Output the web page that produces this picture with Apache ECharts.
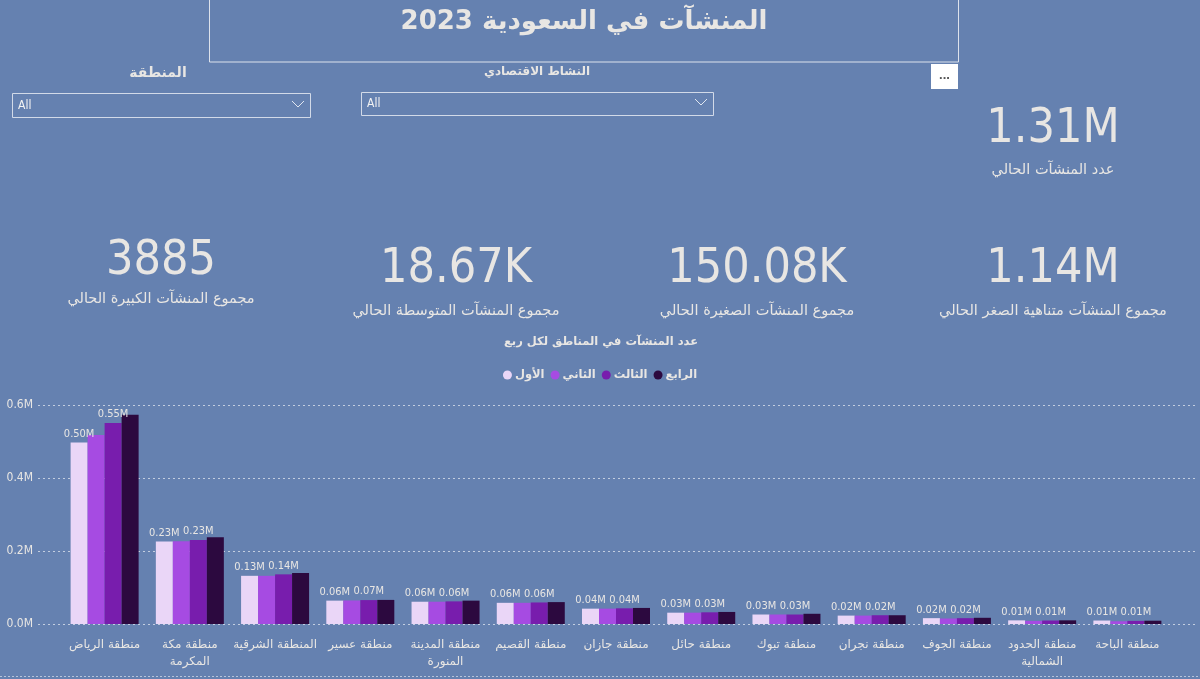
<!DOCTYPE html>
<html>
<head>
<meta charset="utf-8">
<script src="https://cdn.jsdelivr.net/npm/echarts@6/dist/echarts.min.js"></script>
<style>
html,body{margin:0;padding:0;background:#6581B0;}
#c{width:1200px;height:679px;}
</style>
</head>
<body>
<div id="c"></div>
<script>
// ---- data ----
const categories = ['منطقة الرياض','منطقة مكة\nالمكرمة','المنطقة الشرقية','منطقة عسير','منطقة المدينة\nالمنورة','منطقة القصيم','منطقة جازان','منطقة حائل','منطقة تبوك','منطقة نجران','منطقة الجوف','منطقة الحدود\nالشمالية','منطقة الباحة'];
const quarterNames = ['الأول','الثاني','الثالث','الرابع'];
// values in millions
const q1 = [0.497,0.226,0.132,0.064,0.061,0.058,0.042,0.031,0.026,0.023,0.016,0.0100,0.0095];
const q2 = [0.518,0.227,0.132,0.0645,0.061,0.058,0.042,0.031,0.026,0.023,0.015,0.0085,0.0075];
const q3 = [0.551,0.230,0.136,0.0655,0.062,0.059,0.043,0.032,0.026,0.024,0.016,0.0095,0.0085];
const q4 = [0.573,0.2375,0.140,0.066,0.064,0.060,0.044,0.033,0.028,0.024,0.017,0.0100,0.0090];
const yTicks = {min:0, max:0.6, interval:0.2};
const kpiTop = {value:'1.31M', label:'عدد المنشآت الحالي'};
const kpis = [
  {value:'3885', label:'مجموع المنشآت الكبيرة الحالي'},
  {value:'18.67K', label:'مجموع المنشآت المتوسطة الحالي'},
  {value:'150.08K', label:'مجموع المنشآت الصغيرة الحالي'},
  {value:'1.14M', label:'مجموع المنشآت متناهية الصغر الحالي'}
];
const pageTitle = 'المنشآت في السعودية 2023';
const chartTitle = 'عدد المنشآت في المناطق لكل ربع';
const slicers = [{title:'المنطقة', value:'All'},{title:'النشاط الاقتصادي', value:'All'}];

// ---- styling ----
const colors = ['#EAD6F7','#A64BE2','#781DAD','#2C093F'];
const txt = '#E8E6E3';
const arFont = '"DejaVu Sans", "Noto Sans", sans-serif';
const numFont = '"DejaVu Sans Condensed", "DejaVu Sans", sans-serif';
const lblFont = '"DejaVu Sans Condensed", sans-serif';

const chart = echarts.init(document.getElementById('c'));
const series = [q1,q2,q3,q4].map((d,i)=>({
  name: quarterNames[i], type:'bar', xAxisIndex:1, yAxisIndex:1,
  data:d, barWidth:17, barGap:'0%',
  itemStyle:{color:colors[i]},
  label:{show:(i===0||i===2), position:'top', distance:3, color:txt, fontSize:11, fontFamily:lblFont,
    formatter:p=>p.value.toFixed(2)+'M'}
}));

const kpiX = [161,456,757,1053];
const graphics = [
  {type:'rect', shape:{x:209.5,y:-2,width:749,height:64}, style:{fill:'none', stroke:'#DDE2EC', lineWidth:1}},
  {type:'text', x:584, y:22, style:{text:pageTitle, font:'bold 26px '+arFont, fill:txt, align:'center', verticalAlign:'middle'}},
  {type:'rect', shape:{x:931,y:64,width:27,height:25}, style:{fill:'#FFFFFF'}},
  {type:'text', x:944.5, y:75, style:{text:'...', font:'bold 13px sans-serif', fill:'#555', align:'center', verticalAlign:'middle'}},
  // slicers
  {type:'text', x:158, y:73, style:{text:slicers[0].title, font:'bold 14px '+arFont, fill:txt, align:'center', verticalAlign:'middle'}},
  {type:'rect', shape:{x:12.5,y:93.5,width:298,height:24}, style:{fill:'none', stroke:'#D2DAE8', lineWidth:1}},
  {type:'text', x:18, y:106, style:{text:slicers[0].value, font:'12px '+lblFont, fill:'#F2F2F2', verticalAlign:'middle'}},
  {type:'polyline', shape:{points:[[292,101],[298,107],[304,101]]}, style:{stroke:'#E0E6F0', lineWidth:1, fill:'none'}},
  {type:'text', x:537, y:72, style:{text:slicers[1].title, font:'bold 12px '+arFont, fill:txt, align:'center', verticalAlign:'middle'}},
  {type:'rect', shape:{x:361.5,y:92.5,width:352,height:23}, style:{fill:'none', stroke:'#D2DAE8', lineWidth:1}},
  {type:'text', x:367, y:104, style:{text:slicers[1].value, font:'12px '+lblFont, fill:'#F2F2F2', verticalAlign:'middle'}},
  {type:'polyline', shape:{points:[[695,99],[701,105],[707,99]]}, style:{stroke:'#E0E6F0', lineWidth:1, fill:'none'}},
  // KPI top
  {type:'text', x:1053, y:130, style:{text:kpiTop.value, font:'48px '+numFont, fill:txt, align:'center', verticalAlign:'middle'}},
  {type:'text', x:1053, y:170, style:{text:kpiTop.label, font:'14.5px '+arFont, fill:txt, align:'center', verticalAlign:'middle'}},
  // chart title
  {type:'text', x:601, y:342, style:{text:chartTitle, font:'bold 11.5px '+arFont, fill:txt, align:'center', verticalAlign:'middle'}},
  // bottom dotted border
  {type:'line', shape:{x1:0,y1:676.5,x2:1200,y2:676.5}, style:{stroke:'#B9C5DA', lineWidth:1, lineDash:[2,2]}}
];
kpis.forEach((k,i)=>{
  const vy = i===0?262:270, ly = i===0?299:311;
  graphics.push({type:'text', x:kpiX[i], y:vy, style:{text:k.value, font:'48px '+numFont, fill:txt, align:'center', verticalAlign:'middle'}});
  graphics.push({type:'text', x:kpiX[i], y:ly, style:{text:k.label, font:'14.5px '+arFont, fill:txt, align:'center', verticalAlign:'middle'}});
});

chart.setOption({
  backgroundColor:'#6581B0',
  animation:false,
  graphic: graphics,
  legend:{
    data:quarterNames, top:364, left:'center', itemWidth:9, itemHeight:9, icon:'circle', itemGap:6,
    textStyle:{color:txt, fontSize:11.5, fontWeight:'bold', fontFamily:arFont, padding:[0,0,0,-2]}
  },
  grid:[
    {left:38, right:5, top:405, bottom:55},
    {left:62, right:30, top:405, bottom:55}
  ],
  xAxis:[
    {gridIndex:0, type:'value', show:false, min:0, max:1},
    {gridIndex:1, type:'category', data:categories,
     axisLine:{show:false}, axisTick:{show:false},
     axisLabel:{color:txt, fontSize:12, fontFamily:arFont, interval:0, margin:12, lineHeight:17}}
  ],
  yAxis:[
    {gridIndex:0, type:'value', min:yTicks.min, max:yTicks.max, interval:yTicks.interval,
     axisLine:{show:false}, axisTick:{show:false},
     axisLabel:{color:txt, fontSize:12, fontFamily:lblFont, margin:5, formatter:v=>v.toFixed(1)+'M'},
     splitLine:{show:true, lineStyle:{color:'#C3CEE0', type:[2,3], width:1}}},
    {gridIndex:1, type:'value', min:yTicks.min, max:yTicks.max, interval:yTicks.interval, show:false, splitLine:{show:false}}
  ],
  series: series
});
</script>
</body>
</html>
